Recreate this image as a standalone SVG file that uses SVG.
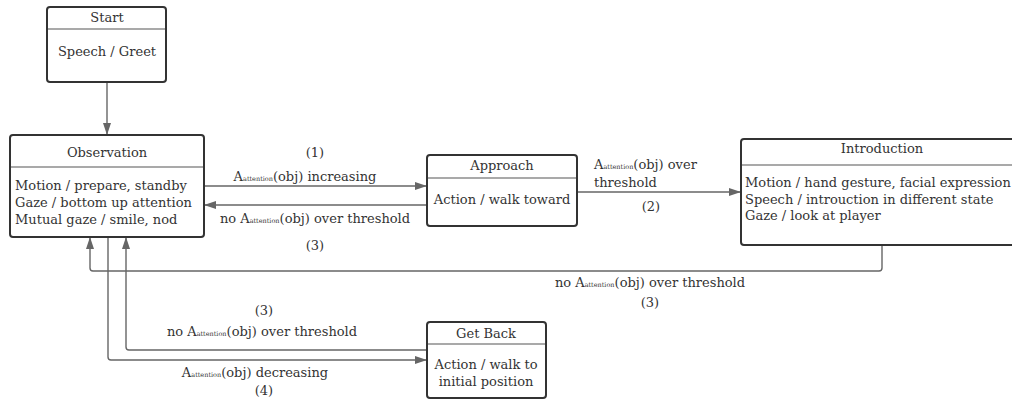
<svg xmlns="http://www.w3.org/2000/svg" width="1012" height="399" viewBox="0 0 1012 399">
<style>
text{font-family:"DejaVu Serif","Liberation Serif",serif;font-size:13px;fill:#333}
.c{text-anchor:middle}
.s{font-size:6.5px}
.box{fill:#fff;stroke:#333;stroke-width:2}
.div{stroke:#555;stroke-width:1.2}
.conn{fill:none;stroke:#666;stroke-width:1.4}
</style>
<defs>
<marker id="ah" markerWidth="12" markerHeight="8" refX="11" refY="4" orient="auto" markerUnits="userSpaceOnUse">
<path d="M0,0 L12,4 L0,8 Z" fill="#666"/>
</marker>
</defs>
<rect width="1012" height="399" fill="#fff"/>
<g id="connectors">
<path class="conn" d="M107,82 V134" marker-end="url(#ah)"/>
<path class="conn" d="M204,186 H426" marker-end="url(#ah)"/>
<path class="conn" d="M427,205 H205" marker-end="url(#ah)"/>
<path class="conn" d="M577,192 H740" marker-end="url(#ah)"/>
<path class="conn" d="M882,245 V268 Q882,271 879,271 H93 Q90,271 90,268 V238" marker-end="url(#ah)"/>
<path class="conn" d="M427,350 H129 Q126,350 126,347 V238" marker-end="url(#ah)"/>
<path class="conn" d="M108,237 V357 Q108,360 111,360 H426" marker-end="url(#ah)"/>
<text class="c" x="315" y="157">(1)</text>
<text class="c" x="305" y="181">A<tspan class="s">attention</tspan>(obj) increasing</text>
<text class="c" x="315" y="223">no A<tspan class="s">attention</tspan>(obj) over threshold</text>
<text class="c" x="315" y="250">(3)</text>
<text x="594" y="169">A<tspan class="s">attention</tspan>(obj) over</text>
<text x="594" y="187">threshold</text>
<text class="c" x="651" y="211">(2)</text>
<text class="c" x="650" y="287">no A<tspan class="s">attention</tspan>(obj) over threshold</text>
<text class="c" x="650" y="307">(3)</text>
<text class="c" x="264" y="315">(3)</text>
<text class="c" x="262" y="336">no A<tspan class="s">attention</tspan>(obj) over threshold</text>
<text class="c" x="255" y="377">A<tspan class="s">attention</tspan>(obj) decreasing</text>
<text class="c" x="264" y="395">(4)</text>
</g>
<g id="start">
<rect class="box" x="47" y="7" width="119" height="75" rx="3"/>
<line class="div" x1="48" y1="29" x2="165" y2="29"/>
<text class="c" x="107" y="22">Start</text>
<text class="c" x="107" y="56">Speech / Greet</text>
</g>
<g id="observation">
<rect class="box" x="10" y="135" width="194" height="102" rx="3"/>
<line class="div" x1="11" y1="167" x2="203" y2="167"/>
<text class="c" x="107" y="157">Observation</text>
<text x="15" y="190">Motion / prepare, standby</text>
<text x="15" y="207">Gaze / bottom up attention</text>
<text x="15" y="224">Mutual gaze / smile, nod</text>
</g>
<g id="approach">
<rect class="box" x="427" y="155" width="150" height="71" rx="3"/>
<line class="div" x1="428" y1="178" x2="576" y2="178"/>
<text class="c" x="502" y="170">Approach</text>
<text class="c" x="502" y="204">Action / walk toward</text>
</g>
<g id="introduction">
<rect class="box" x="741" y="139" width="290" height="106" rx="3"/>
<line class="div" x1="742" y1="165" x2="1012" y2="165"/>
<text class="c" x="882" y="153">Introduction</text>
<text x="745" y="187">Motion / hand gesture, facial expression</text>
<text x="745" y="204">Speech / introuction in different state</text>
<text x="745" y="220">Gaze / look at player</text>
</g>
<g id="getback">
<rect class="box" x="427" y="322" width="119" height="76" rx="3"/>
<line class="div" x1="428" y1="344" x2="545" y2="344"/>
<text class="c" x="486" y="338">Get Back</text>
<text class="c" x="486" y="369">Action / walk to</text>
<text class="c" x="486" y="386">initial position</text>
</g>
</svg>
